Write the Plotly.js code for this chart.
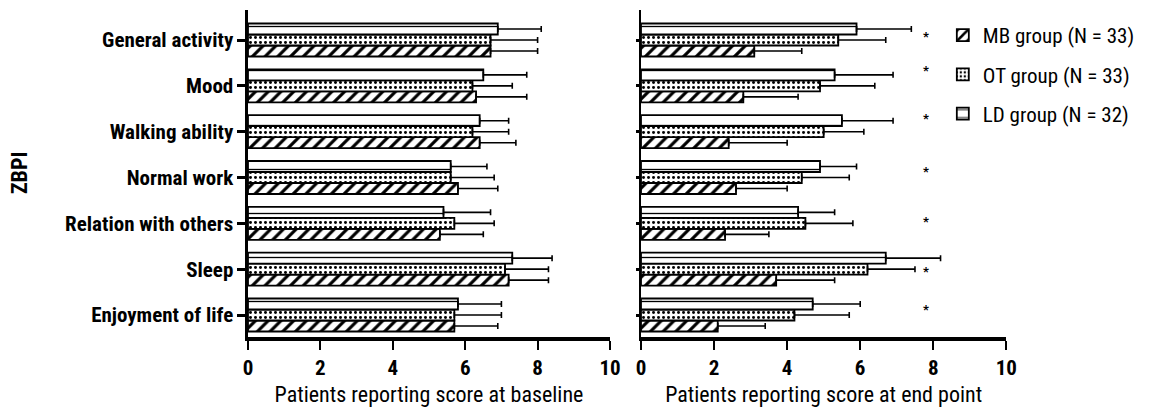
<!DOCTYPE html>
<html>
<head>
<meta charset="utf-8">
<script src="https://cdn.plot.ly/plotly-3.0.1.min.js"></script>
<style>html,body{margin:0;padding:0;background:#fff;}#chart{width:1154px;height:417px;}</style>
</head>
<body>
<div id="chart"></div>
<script>
// Categories, bottom to top
var categories = ["Enjoyment of life", "Sleep", "Relation with others", "Normal work", "Walking ability", "Mood", "General activity"];
var seriesNames = ["MB group (N = 33)", "OT group (N = 33)", "LD group (N = 32)"];

// Baseline (means and SD, same category order)
var baseMB = [5.7, 7.2, 5.3, 5.8, 6.4, 6.3, 6.7];
var baseMBerr = [1.2, 1.1, 1.2, 1.1, 1.0, 1.4, 1.3];
var baseOT = [5.7, 7.1, 5.7, 5.6, 6.2, 6.2, 6.7];
var baseOTerr = [1.3, 1.2, 1.1, 1.2, 1.0, 1.1, 1.3];
var baseLD = [5.8, 7.3, 5.4, 5.6, 6.4, 6.5, 6.9];
var baseLDerr = [1.2, 1.1, 1.3, 1.0, 0.8, 1.2, 1.2];

// End point
var endMB = [2.1, 3.7, 2.3, 2.6, 2.4, 2.8, 3.1];
var endMBerr = [1.3, 1.6, 1.2, 1.4, 1.6, 1.5, 1.3];
var endOT = [4.2, 6.2, 4.5, 4.4, 5.0, 4.9, 5.4];
var endOTerr = [1.5, 1.3, 1.3, 1.3, 1.1, 1.5, 1.3];
var endLD = [4.7, 6.7, 4.3, 4.9, 5.5, 5.3, 5.9];
var endLDerr = [1.3, 1.5, 1.0, 1.0, 1.4, 1.6, 1.5];

// Significance stars (end point panel)
var starCats = ["General activity", "Mood", "Walking ability", "Normal work", "Relation with others", "Sleep", "Enjoyment of life"];
var starShift = [4, 15, 13, 6, 2, -2, 6];

var tickValsX = [0, 2, 4, 6, 8, 10];

var cond = "'Roboto Condensed', 'Open Sans Condensed', 'Liberation Sans Narrow', sans-serif";

var patterns = [
  {shape: "/", fgcolor: "#000", bgcolor: "#fff", size: 9, solidity: 0.35},
  {shape: ".", fgcolor: "#000", bgcolor: "#fff", size: 5, solidity: 0.28},
  {shape: "-", fgcolor: "#000", bgcolor: "#fff", size: 11, solidity: 0.12}
];

function mkBar(vals, errs, idx, xa, ya, showleg) {
  var zeros = vals.map(function(){return 0;});
  return {
    type: "bar", orientation: "h",
    x: vals, y: categories,
    xaxis: xa, yaxis: ya,
    name: seriesNames[idx], showlegend: showleg, legendgroup: "g" + idx,
    marker: {color: "#fff", line: {color: "#000", width: 1.8}, pattern: patterns[idx]},
    error_x: {type: "data", symmetric: false, array: errs, arrayminus: zeros, color: "#000", thickness: 1.6, width: 3}
  };
}

var data = [
  mkBar(baseMB, baseMBerr, 0, "x", "y", true),
  mkBar(baseOT, baseOTerr, 1, "x", "y", true),
  mkBar(baseLD, baseLDerr, 2, "x", "y", true),
  mkBar(endMB, endMBerr, 0, "x2", "y2", false),
  mkBar(endOT, endOTerr, 1, "x2", "y2", false),
  mkBar(endLD, endLDerr, 2, "x2", "y2", false)
];

var annotations = starCats.map(function(c, i) {
  return {xref: "x2", yref: "y2", x: 7.8, y: c, yshift: starShift[i], text: "<b>*</b>", showarrow: false,
          font: {family: cond, size: 13, color: "#000"}};
});
annotations.push({xref: "paper", yref: "paper", x: 0.017, xanchor: "center", y: 0.5, text: "<b>ZBPI</b>", textangle: -90,
                  showarrow: false, font: {family: cond, size: 22, color: "#000"}});

var xCommon = {
  range: [0, 10], tickvals: tickValsX, ticks: "outside", ticklen: 9, tickwidth: 2, tickcolor: "#000",
  showline: true, linewidth: 3.5, linecolor: "#000", showgrid: false, zeroline: false,
  tickfont: {family: cond, size: 21, color: "#000", weight: "bold"}
};

var layout = {
  width: 1154, height: 417,
  margin: {l: 0, r: 0, t: 10, b: 80},
  paper_bgcolor: "#fff", plot_bgcolor: "#fff",
  barmode: "group", bargap: 0.28, bargroupgap: 0,
  showlegend: true,
  legend: {x: 0.817, y: 0.985, xanchor: "left", yanchor: "top", font: {family: cond, size: 21, color: "#000"},
           bgcolor: "rgba(0,0,0,0)", tracegroupgap: 9, itemwidth: 30},
  xaxis: Object.assign({}, xCommon, {domain: [0.2149, 0.5286], anchor: "y",
          title: {text: "Patients reporting score at baseline", font: {family: cond, size: 22, color: "#000"}, standoff: 9}}),
  xaxis2: Object.assign({}, xCommon, {domain: [0.5555, 0.872], anchor: "y2",
          title: {text: "Patients reporting score at end point", font: {family: cond, size: 22, color: "#000"}, standoff: 9}}),
  yaxis: {type: "category", categoryorder: "array", categoryarray: categories, range: [-0.48, 6.655],
          showline: true, linewidth: 2.5, linecolor: "#000", ticks: "outside", ticklen: 8, tickwidth: 3, tickcolor: "#000",
          showgrid: false, zeroline: false, anchor: "x",
          tickfont: {family: cond, size: 21, color: "#000", weight: "bold"}},
  yaxis2: {type: "category", categoryorder: "array", categoryarray: categories, range: [-0.48, 6.655], matches: "y",
           showline: true, linewidth: 2.5, linecolor: "#000", ticks: "outside", ticklen: 3, tickwidth: 3, tickcolor: "#000",
           showticklabels: false, showgrid: false, zeroline: false, anchor: "x2"},
  annotations: annotations
};

Plotly.newPlot("chart", data, layout, {staticPlot: true});
</script>
</body>
</html>
